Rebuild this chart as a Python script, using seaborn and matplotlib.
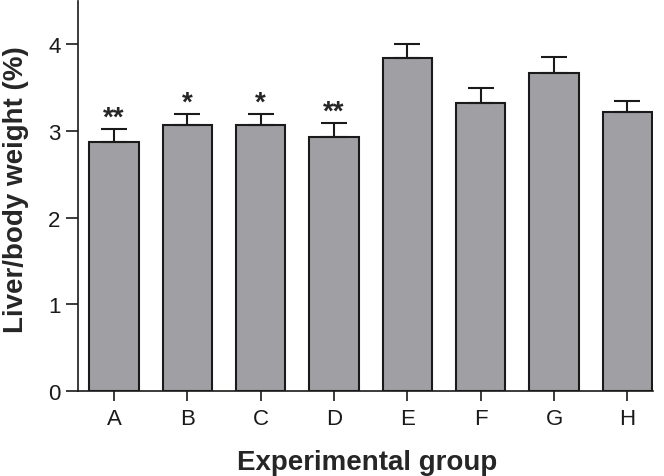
import numpy as np
import pandas as pd
import matplotlib
matplotlib.use("Agg")
import matplotlib.pyplot as plt
import seaborn as sns

# === DATA
groups = ["A", "B", "C", "D", "E", "F", "G", "H"]
means = [2.87, 3.07, 3.07, 2.93, 3.84, 3.32, 3.67, 3.22]
sems = [0.15, 0.13, 0.13, 0.16, 0.16, 0.18, 0.18, 0.13]
stars = ["**", "*", "*", "**", "", "", "", ""]

df = pd.DataFrame({"group": groups, "value": means})

sns.set_style("ticks")
plt.rcParams["font.family"] = ["Liberation Sans", "DejaVu Sans"]

fig = plt.figure(figsize=(6.64, 4.77), dpi=100)
ax = fig.add_axes([0.1175, 0.178, 0.866, 0.818])

sns.barplot(data=df, x="group", y="value", color="#a0a0a4", saturation=1,
            width=0.67, edgecolor="#1a1a1a", linewidth=1.5, errorbar=None, ax=ax)

x = np.arange(len(groups))
ax.errorbar(x, means, yerr=[np.zeros(len(sems)), sems], fmt="none",
            ecolor="#1a1a1a", elinewidth=1.5, capsize=9.5, capthick=1.5, zorder=1)

# significance stars above the caps
for xi, m, s, st in zip(x, means, sems, stars):
    if st:
        ax.text(xi, m + s + 0.05, st, ha="center", va="baseline", fontsize=20,
                fontweight="bold")

ax.set_xlim(-0.49, 7.35)
ax.set_ylim(0, 4.5)
ax.set_yticks([0, 1, 2, 3, 4])
sns.despine(ax=ax)
for sp in ["left", "bottom"]:
    ax.spines[sp].set_linewidth(1.2)
    ax.spines[sp].set_color("#1a1a1a")
ax.tick_params(axis="y", length=9, width=1.2, labelsize=16, colors="#1a1a1a", pad=3.5)
ax.tick_params(axis="x", length=7, width=1.2, labelsize=16, colors="#1a1a1a", pad=5)
ax.set_xlabel("Experimental group", fontsize=20, fontweight="bold", va="baseline")
ax.set_ylabel("Liver/body weight (%)", fontsize=20, fontweight="bold")
ax.xaxis.set_label_coords(0.503, -0.2)
ax.yaxis.set_label_coords(-0.085, 0.518)

fig.savefig("out.png", dpi=100)
